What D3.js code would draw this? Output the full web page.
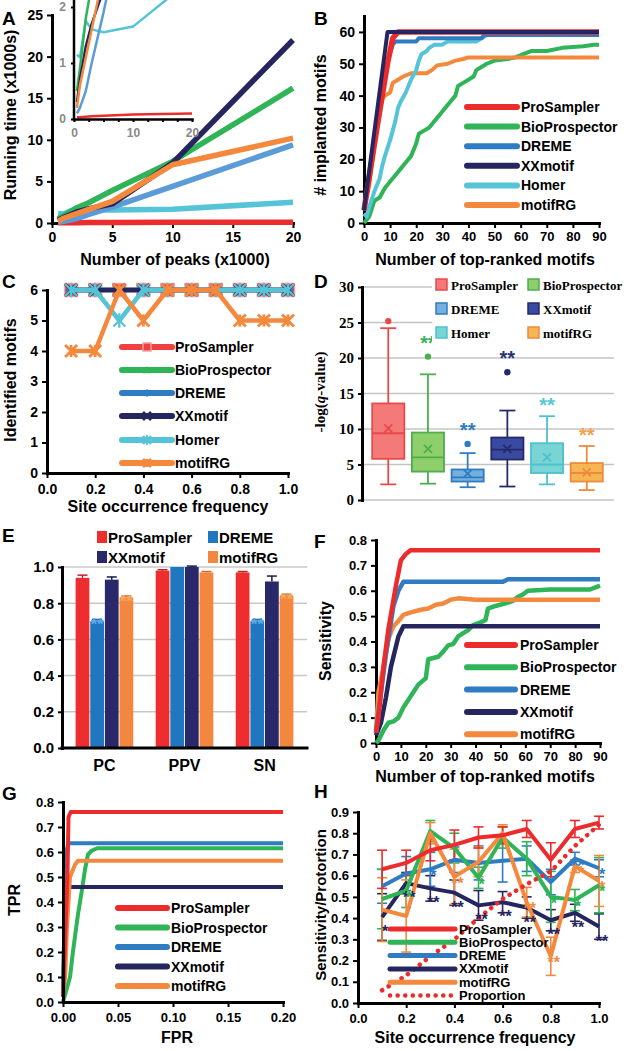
<!DOCTYPE html>
<html><head><meta charset="utf-8">
<script src="https://cdn.jsdelivr.net/npm/d3@7"></script>
<style>body{margin:0;background:#fff}</style>
</head><body>
<script>
// ---------------- DATA ----------------
const methods = ["ProSampler","BioProspector","DREME","XXmotif","Homer","motifRG"];
// Panel A: running time (x1000 s) vs number of peaks (x1000)
const peaksK = [0.5,1,2,3,5,10,20];
const timeProSampler = [0.03,0.03,0.04,0.05,0.06,0.08,0.1];
const timeBioProspector = [0.5,0.9,1.8,2.4,3.9,7.4,16.2];
const timeDREME = [0.1,0.2,0.5,1.0,1.9,4.4,9.4];
const timeXXmotif = [0.3,0.7,1.3,1.7,2.3,7.2,22.0];
const timeHomer = [1.15,1.1,1.75,1.6,1.55,1.65,2.5];
const timeMotifRG = [0.2,0.6,1.1,1.6,2.6,7.0,10.2];
const ticksA_y = [0,5,10,15,20,25];
const ticksA_x = [0,5,10,15,20];
const ticksInset_y = [0,1,2];
const ticksInset_x = [0,10,20];

// Panel B: # implanted motifs vs number of top-ranked motifs [rank, count]
const bProSampler = [[0,4],[5,30],[9,50],[11,58],[13,60],[90,60]];
const bBioProspector = [[0,0],[1,1],[2,2],[4,7],[6,8],[8,11],[10,13],[12,15],[14,17],[16,19],[18,21],[20,25],[21,28],[23,29],[25,30],[27,32],[29,34],[31,36],[33,38],[35,40],[36,43],[38,44],[40,45],[42,46],[43,48],[45,49],[47,50],[50,51],[55,51.5],[58,52],[61,53],[64,54],[70,54],[76,55],[84,55.5],[88,56],[90,56]];
const bDREME = [[0,4],[8,48],[11,56],[12,57],[20,57],[21,58],[45,58],[46,59],[90,59]];
const bXXmotif = [[0,4],[9,60],[90,60]];
const bHomer = [[0,3],[1,2],[2,5],[4,10],[6,14],[7,18],[8,21],[10,26],[11,29],[12,32],[13,36],[14,38],[16,41],[17,43],[18,45],[20,48],[21,51],[22,53],[24,54],[25,55],[27,56],[30,56],[32,57],[43,57],[45,58],[47,59],[90,59]];
const bMotifRG = [[0,4],[2,12],[4,25],[6,35],[7,39],[8,40],[10,41],[11,44],[13,45],[15,46],[18,47],[24,47],[26,48],[28,49.5],[32,50],[35,51],[38,51.5],[40,52],[90,52]];
const ticksB_y = [0,10,20,30,40,50,60];
const ticksRank = [0,10,20,30,40,50,60,70,80,90];

// Panel C: identified motifs vs site occurrence frequency
const freq = [0.1,0.2,0.3,0.4,0.5,0.6,0.7,0.8,0.9,1.0];
const cProSampler = [6,6,6,6,6,6,6,6,6,6];
const cBioProspector = [6,6,6,6,6,6,6,6,6,6];
const cDREME = [6,6,6,6,6,6,6,6,6,6];
const cXXmotif = [6,6,6,6,6,6,6,6,6,6];
const cHomer = [6,6,5,6,6,6,6,6,6,6];
const cMotifRG = [4,4,6,5,6,6,6,5,5,5];
const ticksC_y = [0,1,2,3,4,5,6];
const ticksFreq = [0,0.2,0.4,0.6,0.8,1.0];

// Panel D: -log(q-value) box plots
const boxLow = [2.2,2.3,1.8,1.9,2.2,1.4];
const boxQ1 = [5.8,4.0,2.6,5.7,3.8,2.6];
const boxMedian = [9.4,6.0,3.2,7.1,5.0,3.8];
const boxQ3 = [13.6,9.5,4.3,8.8,8.0,5.2];
const boxHigh = [24.2,17.7,6.6,12.6,11.8,7.6];
const boxMean = [10.1,7.2,3.7,7.2,6.0,3.9];
const boxOutlier = [25.2,20.2,7.9,18.0,null,null];
const boxStars = ["","**","**","**","**","**"];
const ticksD_y = [0,5,10,15,20,25,30];

// Panel E: PC / PPV / SN
const metrics = ["PC","PPV","SN"];
const eMethods = ["ProSampler","DREME","XXmotif","motifRG"];
const eProSampler = [0.94,0.98,0.97];
const eDREME = [0.70,1.00,0.70];
const eXXmotif = [0.93,1.00,0.92];
const eMotifRG = [0.83,0.97,0.84];
const eErrProSampler = [0.015,0.005,0.005];
const eErrDREME = [0.01,0,0.01];
const eErrXXmotif = [0.015,0.005,0.03];
const eErrMotifRG = [0.01,0.005,0.01];
const eStarsDREME = ["**","","**"];
const eStarsMotifRG = ["**","","**"];
const ticksE_y = [0,0.2,0.4,0.6,0.8,1.0];

// Panel F: sensitivity vs number of top-ranked motifs [rank, sensitivity]
const fProSampler = [[0,0.04],[1,0.1],[3,0.3],[5,0.45],[8,0.62],[10,0.72],[12,0.745],[14,0.76],[90,0.76]];
const fBioProspector = [[0,0],[1,0.01],[3,0.05],[5,0.08],[7,0.085],[9,0.1],[11,0.14],[13,0.17],[15,0.2],[17,0.23],[20,0.255],[21,0.33],[25,0.34],[27,0.36],[29,0.385],[31,0.39],[33,0.42],[37,0.445],[39,0.465],[42,0.475],[44,0.485],[45,0.53],[48,0.54],[52,0.55],[55,0.56],[57,0.575],[59,0.585],[61,0.6],[70,0.605],[86,0.605],[90,0.62]];
const fDREME = [[0,0.04],[2,0.2],[4,0.35],[7,0.54],[9,0.6],[11,0.635],[51,0.635],[53,0.645],[90,0.645]];
const fXXmotif = [[0,0.03],[2,0.08],[4,0.18],[6,0.3],[9,0.42],[11,0.46],[90,0.46]];
const fMotifRG = [[0,0.05],[1,0.2],[3,0.3],[5,0.41],[7,0.46],[9,0.48],[11,0.505],[14,0.515],[18,0.525],[21,0.53],[24,0.545],[27,0.55],[30,0.565],[33,0.57],[40,0.565],[90,0.565]];
const ticksF_y = [0,0.1,0.2,0.3,0.4,0.5,0.6,0.7,0.8];

// Panel G: ROC [FPR, TPR]
const gProSampler = [[0,0.02],[0.004,0.5],[0.005,0.74],[0.007,0.76],[0.2,0.76]];
const gBioProspector = [[0,0],[0.002,0.03],[0.0064,0.1],[0.009,0.2],[0.0136,0.35],[0.0173,0.45],[0.02,0.53],[0.0227,0.59],[0.026,0.605],[0.031,0.615],[0.2,0.615]];
const gDREME = [[0,0.05],[0.002,0.45],[0.003,0.6],[0.005,0.635],[0.2,0.635]];
const gXXmotif = [[0,0.02],[0.002,0.46],[0.2,0.46]];
const gMotifRG = [[0,0.04],[0.002,0.1],[0.0036,0.3],[0.0064,0.5],[0.011,0.55],[0.0136,0.565],[0.2,0.565]];
const ticksG_y = [0,0.1,0.2,0.3,0.4,0.5,0.6,0.7,0.8];
const ticksG_x = [0,0.05,0.1,0.15,0.2];

// Panel H: sensitivity / proportion vs site occurrence frequency
const hProSampler = [0.63,0.66,0.72,0.745,0.78,0.79,0.82,0.675,0.82,0.85];
const hProSamplerErr = [0.09,0.06,0.05,0.07,0.05,0.04,0.04,0.08,0.04,0.03];
const hBioProspector = [0.49,0.53,0.81,0.73,0.59,0.78,0.68,0.50,0.485,0.555];
const hBioProspectorErr = [0.14,0.08,0.05,0.07,0.05,0.05,0.08,0.12,0.05,0.13];
const hDREME = [0.55,0.61,0.63,0.675,0.66,0.67,0.68,0.57,0.68,0.635];
const hDREMEErr = [0.08,0.08,0.08,0.06,0.08,0.1,0.06,0.06,0.03,0.04];
const hXXmotif = [0.405,0.565,0.54,0.52,0.46,0.475,0.45,0.39,0.425,0.36];
const hXXmotifErr = [0.11,0.05,0.06,0.06,0.07,0.05,0.05,0.05,0.04,0.06];
const hMotifRG = [0.44,0.41,0.80,0.595,0.665,0.80,0.475,0.22,0.645,0.575];
const hMotifRGErr = [0.15,0.17,0.05,0.13,0.07,0.04,0.07,0.09,0.03,0.12];
const hProportion = [0.06,0.13,0.22,0.30,0.40,0.49,0.56,0.62,0.74,0.84];
const hStarsBio = ["","*","","","*","","*","*","*","*"];
const hStarsDREME = ["","","*","","","","","","**","*"];
const hStarsXX = ["*","**","**","**","**","**","**","**","**","**"];
const hStarsMRG = ["","","","**","","","**","**","**","*"];
const ticksH_y = [0,0.1,0.2,0.3,0.4,0.5,0.6,0.7,0.8,0.9];

// ---------------- STYLE ----------------
const SANS = "'Liberation Sans', Arial, sans-serif";
const SERIF = "'Liberation Serif', 'Times New Roman', serif";
const COL = {ProSampler:'#ec2c2c', BioProspector:'#2fb457', DREME:'#2f7cc2', XXmotif:'#25265f', Homer:'#55c4d6', motifRG:'#f4893e', Proportion:'#ec2c2c'};

const svg = d3.select('body').append('svg').attr('width',624).attr('height',1051).style('display','block');
svg.append('rect').attr('width',624).attr('height',1051).attr('fill','#fff');

function styleAxis(s, fs, fam, color, lw){
  s.select('.domain').attr('stroke','#000').attr('stroke-width',lw||3).attr('stroke-linecap','square');
  s.selectAll('.tick line').attr('stroke','#000').attr('stroke-width',2);
  s.selectAll('.tick text').attr('font-family',fam||SANS).attr('font-weight','bold').attr('font-size',fs).attr('fill',color||'#000');
}
function axLeft(x0, y, ticks, fmt, fs, o={}){
  const s = svg.append('g').attr('transform',`translate(${x0},0)`)
    .call(d3.axisLeft(y).tickValues(ticks).tickFormat(fmt).tickSize(o.ts ?? 5).tickSizeOuter(0).tickPadding(o.tp ?? 4));
  styleAxis(s, fs, o.fam, o.color, o.lw); return s;
}
function axBottom(y0, x, ticks, fmt, fs, o={}){
  const s = svg.append('g').attr('transform',`translate(0,${y0})`)
    .call(d3.axisBottom(x).tickValues(ticks).tickFormat(fmt).tickSize(o.ts ?? 5).tickSizeOuter(0).tickPadding(o.tp ?? 4));
  styleAxis(s, fs, o.fam, o.color, o.lw); return s;
}
function txt(x, y, str, fs, o={}){
  const t = svg.append('text').attr('x',x).attr('y',y).attr('font-family',o.fam||SANS)
    .attr('font-weight',o.fw||'bold').attr('font-size',fs).attr('text-anchor',o.anchor||'middle')
    .attr('fill',o.fill||'#000');
  if(o.rot) t.attr('transform',`rotate(-90,${x},${y})`).attr('dominant-baseline','central');
  if(o.db) t.attr('dominant-baseline',o.db);
  t.text(str); return t;
}
function path(d, color, w, o={}){
  return svg.append('path').attr('d',d).attr('fill','none').attr('stroke',color).attr('stroke-width',w)
    .attr('stroke-linejoin','round').attr('stroke-linecap',o.cap||'butt').attr('clip-path',o.clip||null)
    .attr('stroke-dasharray',o.dash||null);
}
function lineLegend(items, x0, x1, tx, y0, dy, fs, sw){
  items.forEach((name,i)=>{
    const y = y0 + i*dy;
    const l = svg.append('line').attr('x1',x0).attr('x2',x1).attr('y1',y).attr('y2',y)
      .attr('stroke',COL[name]).attr('stroke-width',sw).attr('stroke-linecap','round');
    if(name==='Proportion') l.attr('stroke-dasharray','0.1,7.5').attr('stroke-width',4.5);
    txt(tx, y, name, fs, {anchor:'start', db:'central'});
  });
}
function pf(v){ return v===0 ? '0' : d3.format('.1f')(v); }
function pf1(v){ return d3.format('.1f')(v); }

// ---------------- PANEL A ----------------
{
  const x = d3.scaleLinear().domain([0,20]).range([52,293]);
  const y = d3.scaleLinear().domain([0,25]).range([223,15]);
  axLeft(52, y, ticksA_y, d3.format('d'), 14);
  axBottom(223, x, ticksA_x, d3.format('d'), 14);
  const series = [['ProSampler',timeProSampler],['Homer',timeHomer],['DREME',timeDREME],['BioProspector',timeBioProspector],['XXmotif',timeXXmotif],['motifRG',timeMotifRG]];
  const colA = Object.assign({}, COL, {DREME:'#5a9bd8'});
  const ln = d3.line().x((d,i)=>x(peaksK[i])).y(d=>y(d));
  series.forEach(([n,v])=>path(ln(v), colA[n], 5.5));
  // inset
  const xi = d3.scaleLinear().domain([0,20]).range([74,192]);
  const yi = d3.scaleLinear().domain([0,2]).range([119,7]);
  svg.append('clipPath').attr('id','clipI').append('rect').attr('x',74).attr('y',0).attr('width',120).attr('height',121);
  const li = d3.line().x((d,i)=>xi(peaksK[i])).y(d=>yi(d));
  series.forEach(([n,v])=>path(li(v), colA[n], 2.5, {clip:'url(#clipI)'}));
  const ai = svg.append('g').attr('transform','translate(74,0)')
    .call(d3.axisLeft(yi).tickValues(ticksInset_y).tickFormat(d3.format('d')).tickSize(3).tickSizeOuter(0).tickPadding(5));
  styleAxis(ai, 12, SANS, '#8a8a8a', 2.5);
  ai.select('.domain').attr('d','M0,0V119');
  const bi = svg.append('g').attr('transform','translate(0,119)')
    .call(d3.axisBottom(xi).tickValues(d3.range(0,20.1,2.5)).tickFormat(d=>ticksInset_x.includes(d)?d:'').tickSize(3).tickSizeOuter(0).tickPadding(6));
  styleAxis(bi, 12, SANS, '#8a8a8a', 2.5);
  txt(10, 115, 'Running time (x1000s)', 16, {rot:true});
  txt(175, 265, 'Number of peaks (x1000)', 16);
  txt(2, 25, 'A', 19, {anchor:'start'});
}

// ---------------- PANEL B ----------------
{
  const x = d3.scaleLinear().domain([0,90]).range([364,599]);
  const y = d3.scaleLinear().domain([0,65]).range([223,16]);
  axLeft(364, y, ticksB_y, d3.format('d'), 14);
  axBottom(223, x, ticksRank, d3.format('d'), 13);
  const ln = d3.line().x(d=>x(d[0])).y(d=>y(d[1]));
  [['BioProspector',bBioProspector],['motifRG',bMotifRG],['Homer',bHomer],['DREME',bDREME],['ProSampler',bProSampler],['XXmotif',bXXmotif]]
    .forEach(([n,v])=>path(ln(v), COL[n], n==='ProSampler'?5.5:4));
  lineLegend(methods, 467, 517, 521, 107, 19.6, 14, 6);
  txt(320, 125, '# implanted motifs', 16, {rot:true});
  txt(485, 265, 'Number of top-ranked motifs', 16);
  txt(314, 25, 'B', 19, {anchor:'start'});
}

// ---------------- markers ----------------
function marker(type, x, y, color, r){
  const g = svg.append('g');
  if(type==='square') g.append('rect').attr('x',x-r).attr('y',y-r).attr('width',2*r).attr('height',2*r).attr('fill',color).attr('stroke','#f5a0a0').attr('stroke-width',1.5);
  else if(type==='triangle') g.append('path').attr('d',`M${x},${y-r}L${x+r},${y+r*0.8}L${x-r},${y+r*0.8}Z`).attr('fill',color);
  else if(type==='diamond') g.append('path').attr('d',`M${x},${y-r}L${x+r},${y}L${x},${y+r}L${x-r},${y}Z`).attr('fill',color);
  else if(type==='x') g.append('path').attr('d',`M${x-r},${y-r}L${x+r},${y+r}M${x-r},${y+r}L${x+r},${y-r}`).attr('stroke',color).attr('stroke-width',2.8);
  else if(type==='star') g.append('path').attr('d',`M${x-r},${y-r}L${x+r},${y+r}M${x-r},${y+r}L${x+r},${y-r}M${x},${y-r*1.2}V${y+r*1.2}`).attr('stroke',color).attr('stroke-width',2.2);
  else if(type==='asterisk') g.append('path').attr('d',`M${x-r},${y-r}L${x+r},${y+r}M${x-r},${y+r}L${x+r},${y-r}M${x},${y-r}V${y+r}`).attr('stroke',color).attr('stroke-width',2.8);
}

// ---------------- PANEL C ----------------
{
  const x = d3.scaleLinear().domain([0,1]).range([47,288]);
  const y = d3.scaleLinear().domain([0,6]).range([473,290]);
  axLeft(47, y, ticksC_y, d3.format('d'), 14);
  axBottom(473, x, ticksFreq, pf1, 14, {tp:6});
  const ln = d3.line().x((d,i)=>x(freq[i])).y(d=>y(d));
  const mk = {ProSampler:'square',BioProspector:'triangle',DREME:'diamond',XXmotif:'x',Homer:'star',motifRG:'asterisk'};
  const colC = Object.assign({}, COL, {ProSampler:'#f04040'});
  [['ProSampler',cProSampler],['BioProspector',cBioProspector],['DREME',cDREME],['XXmotif',cXXmotif],['Homer',cHomer],['motifRG',cMotifRG]]
    .forEach(([n,v])=>{
      path(ln(v), colC[n], 4.5);
      v.forEach((d,i)=>marker(mk[n], x(freq[i]), y(d), colC[n], n==='ProSampler'?6.5:6));
    });
  const ys = [347,370,393,416,440,463];
  methods.forEach((n,i)=>{
    svg.append('line').attr('x1',122).attr('x2',172).attr('y1',ys[i]).attr('y2',ys[i]).attr('stroke',colC[n]).attr('stroke-width',6).attr('stroke-linecap','round');
    marker(mk[n], 147, ys[i], colC[n], 4);
    txt(175, ys[i], n, 14, {anchor:'start', db:'central'});
  });
  txt(10, 380, 'Identified motifs', 16, {rot:true});
  txt(168, 512, 'Site occurrence frequency', 16);
  txt(2, 288, 'C', 19, {anchor:'start'});
}

// ---------------- PANEL D ----------------
{
  const x = d3.scaleBand().domain(methods).range([370,605]).paddingInner(0.12).paddingOuter(0.02);
  const y = d3.scaleLinear().domain([0,30]).range([500,287]);
  const fill = {ProSampler:'#f47a7a',BioProspector:'#8fcf6b',DREME:'#74afe0',XXmotif:'#3a4aa0',Homer:'#7ad4d4',motifRG:'#f6b653'};
  const strk = {ProSampler:'#e84a4a',BioProspector:'#4cae4c',DREME:'#2f7cc2',XXmotif:'#242a6e',Homer:'#4cc2d0',motifRG:'#ee8a3c'};
  const starC = {BioProspector:'#38b060',DREME:'#2f7cc2',XXmotif:'#2a2f75',Homer:'#55c8d8',motifRG:'#f5a04a'};
  ticksD_y.forEach(t=>svg.append('line').attr('x1',362).attr('x2',614).attr('y1',y(t)).attr('y2',y(t)).attr('stroke','#c4c4c4').attr('stroke-width',1.5));
  methods.forEach((n,i)=>{
    const cx = x(n) + x.bandwidth()/2, bw = x.bandwidth()*0.92, c = strk[n];
    svg.append('line').attr('x1',cx).attr('x2',cx).attr('y1',y(boxLow[i])).attr('y2',y(boxHigh[i])).attr('stroke',c).attr('stroke-width',1.8);
    [boxLow[i],boxHigh[i]].forEach(v=>svg.append('line').attr('x1',cx-8).attr('x2',cx+8).attr('y1',y(v)).attr('y2',y(v)).attr('stroke',c).attr('stroke-width',1.8));
    svg.append('rect').attr('x',cx-bw/2).attr('y',y(boxQ3[i])).attr('width',bw).attr('height',y(boxQ1[i])-y(boxQ3[i]))
      .attr('fill',fill[n]).attr('stroke',c).attr('stroke-width',1.8);
    svg.append('line').attr('x1',cx-bw/2).attr('x2',cx+bw/2).attr('y1',y(boxMedian[i])).attr('y2',y(boxMedian[i])).attr('stroke',c).attr('stroke-width',1.8);
    const my = y(boxMean[i]);
    svg.append('path').attr('d',`M${cx-4},${my-4}L${cx+4},${my+4}M${cx-4},${my+4}L${cx+4},${my-4}`).attr('stroke',c).attr('stroke-width',1.8);
    let top = y(boxHigh[i]);
    if(boxOutlier[i]!==null){ svg.append('circle').attr('cx',cx).attr('cy',y(boxOutlier[i])).attr('r',3.2).attr('fill',c); top = y(boxOutlier[i])-3; }
    if(boxStars[i]) txt(cx, top-4, boxStars[i], 20, {fill:starC[n]});
  });
  axLeft(362, y, ticksD_y, d3.format('d'), 15, {fam:SERIF, ts:4});
  // legend
  svg.append('rect').attr('x',432).attr('y',272).attr('width',184).attr('height',72).attr('fill','#fff');
  methods.forEach((n,i)=>{
    const col = i%2, row = Math.floor(i/2);
    const sx = col ? 528 : 436, sy = 285 + row*24;
    svg.append('rect').attr('x',sx).attr('y',sy-6).attr('width',11).attr('height',11).attr('fill',fill[n]).attr('stroke',strk[n]).attr('stroke-width',1.5);
    txt(sx+15, sy, n, 13, {anchor:'start', db:'central', fam:SERIF});
  });
  const t = svg.append('text').attr('transform','rotate(-90,320,392)').attr('x',320).attr('y',392)
    .attr('text-anchor','middle').attr('dominant-baseline','central').attr('font-family',SERIF).attr('font-size',15).attr('font-weight','bold');
  t.append('tspan').text('-log(');
  t.append('tspan').attr('font-style','italic').text('q');
  t.append('tspan').text('-value)');
  txt(314, 288, 'D', 19, {anchor:'start'});
}

// ---------------- PANEL E ----------------
{
  const x0 = d3.scaleBand().domain(metrics).range([62,307]).paddingInner(0.28).paddingOuter(0.17);
  const x1 = d3.scaleBand().domain(eMethods).range([0,x0.bandwidth()]).paddingInner(0.06);
  const y = d3.scaleLinear().domain([0,1]).range([748,567]);
  const colE = {ProSampler:'#ee2e2e',DREME:'#1f77c0',XXmotif:'#29286a',motifRG:'#f4873f'};
  const errC = {ProSampler:'#c42020',DREME:'#155c98',XXmotif:'#1a1a4a',motifRG:'#d86a25'};
  const starC = {DREME:'#5aaae8',motifRG:'#f8a860'};
  ticksE_y.filter(t=>t>0).forEach(t=>svg.append('line').attr('x1',62).attr('x2',307).attr('y1',y(t)).attr('y2',y(t)).attr('stroke','#c8c8c8').attr('stroke-width',1.5));
  const vals = {ProSampler:eProSampler,DREME:eDREME,XXmotif:eXXmotif,motifRG:eMotifRG};
  const errs = {ProSampler:eErrProSampler,DREME:eErrDREME,XXmotif:eErrXXmotif,motifRG:eErrMotifRG};
  const stars = {DREME:eStarsDREME,motifRG:eStarsMotifRG};
  metrics.forEach((m,j)=>{
    eMethods.forEach(n=>{
      const v = vals[n][j], e = errs[n][j];
      const bx = x0(m)+x1(n), bw = x1.bandwidth(), cx = bx+bw/2;
      svg.append('rect').attr('x',bx).attr('y',y(v)).attr('width',bw).attr('height',y(0)-y(v)).attr('fill',colE[n]);
      if(e>0){
        svg.append('line').attr('x1',cx).attr('x2',cx).attr('y1',y(v)).attr('y2',y(v+e)).attr('stroke',errC[n]).attr('stroke-width',1.5);
        svg.append('line').attr('x1',cx-5).attr('x2',cx+5).attr('y1',y(v+e)).attr('y2',y(v+e)).attr('stroke',errC[n]).attr('stroke-width',1.5);
      }
      if(stars[n] && stars[n][j]) txt(cx, y(v)+9, stars[n][j], 17, {fill:starC[n]});
    });
  });
  axLeft(62, y, ticksE_y, pf1, 15, {ts:4});
  const ab = axBottom(748, x0, metrics, d=>d, 16, {ts:0, tp:12});
  ab.select('.domain').attr('d','M62,0H307');
  // legend
  [['ProSampler',97,537],['DREME',208,537],['XXmotif',97,557],['motifRG',208,557]].forEach(([n,sx,sy])=>{
    svg.append('rect').attr('x',sx).attr('y',sy-6).attr('width',10).attr('height',12).attr('fill',colE[n]);
    txt(sx+11, sy, n, 15, {anchor:'start', db:'central'});
  });
  txt(2, 542, 'E', 19, {anchor:'start'});
}

// ---------------- PANEL F ----------------
{
  const x = d3.scaleLinear().domain([0,90]).range([376,600]);
  const y = d3.scaleLinear().domain([0,0.8]).range([743,540]);
  axLeft(376, y, ticksF_y, pf, 13);
  axBottom(743, x, ticksRank, d3.format('d'), 13);
  const ln = d3.line().x(d=>x(d[0])).y(d=>y(d[1]));
  [['BioProspector',fBioProspector],['XXmotif',fXXmotif],['motifRG',fMotifRG],['DREME',fDREME],['ProSampler',fProSampler]]
    .forEach(([n,v])=>path(ln(v), COL[n], 4.5));
  lineLegend(['ProSampler','BioProspector','DREME','XXmotif','motifRG'], 467, 515, 520, 645, 22.3, 14, 6);
  txt(325, 641, 'Sensitivity', 16, {rot:true});
  txt(485, 782, 'Number of top-ranked motifs', 16);
  txt(314, 548, 'F', 19, {anchor:'start'});
}

// ---------------- PANEL G ----------------
{
  const x = d3.scaleLinear().domain([0,0.2]).range([63,283]);
  const y = d3.scaleLinear().domain([0,0.8]).range([1002,802]);
  const ln = d3.line().x(d=>x(d[0])).y(d=>y(d[1]));
  [['BioProspector',gBioProspector],['XXmotif',gXXmotif],['motifRG',gMotifRG],['DREME',gDREME],['ProSampler',gProSampler]]
    .forEach(([n,v])=>path(ln(v), COL[n], 4));
  axLeft(63, y, ticksG_y, pf1, 13);
  axBottom(1002, x, ticksG_x, d3.format('.2f'), 13, {tp:6});
  lineLegend(['ProSampler','BioProspector','DREME','XXmotif','motifRG'], 118, 167, 171, 908, 19.5, 14, 6);
  txt(14, 900, 'TPR', 16, {rot:true});
  txt(177, 1043, 'FPR', 16);
  txt(2, 800, 'G', 19, {anchor:'start'});
}

// ---------------- PANEL H ----------------
{
  const x = d3.scaleLinear().domain([0,1]).range([358,599]);
  const y = d3.scaleLinear().domain([0,0.9]).range([1003,812]);
  const ln = d3.line().x((d,i)=>x(freq[i])).y(d=>y(d));
  const series = [['XXmotif',hXXmotif,hXXmotifErr,hStarsXX],['DREME',hDREME,hDREMEErr,hStarsDREME],['BioProspector',hBioProspector,hBioProspectorErr,hStarsBio],['motifRG',hMotifRG,hMotifRGErr,hStarsMRG],['ProSampler',hProSampler,hProSamplerErr,null]];
  series.forEach(([n,v,e])=>{
    v.forEach((d,i)=>{
      const cx = x(freq[i]);
      svg.append('line').attr('x1',cx).attr('x2',cx).attr('y1',y(d-e[i])).attr('y2',y(d+e[i])).attr('stroke',COL[n]).attr('stroke-width',1.6);
      [d-e[i], d+e[i]].forEach(w=>svg.append('line').attr('x1',cx-5).attr('x2',cx+5).attr('y1',y(w)).attr('y2',y(w)).attr('stroke',COL[n]).attr('stroke-width',1.6));
    });
  });
  series.forEach(([n,v])=>path(ln(v), COL[n], 4));
  path(ln(hProportion), COL.Proportion, 4.5, {dash:'0.1,7.5', cap:'round'});
  series.forEach(([n,v,e,s])=>{
    if(!s) return;
    v.forEach((d,i)=>{ if(s[i]) txt(x(freq[i])+3, y(d)+ (n==='XXmotif'?20:12), s[i], 16, {fill:COL[n]}); });
  });
  axLeft(358, y, ticksH_y, pf1, 13);
  axBottom(1003, x, ticksFreq, pf1, 13, {tp:6});
  lineLegend(['ProSampler','BioProspector','DREME','XXmotif','motifRG','Proportion'], 390, 455, 459, 929, 13.3, 13, 5);
  txt(320, 905, 'Sensitivity/Protortion', 15, {rot:true});
  txt(475, 1043, 'Site occurrence frequency', 16);
  txt(314, 798, 'H', 19, {anchor:'start'});
}
</script>
</body></html>
